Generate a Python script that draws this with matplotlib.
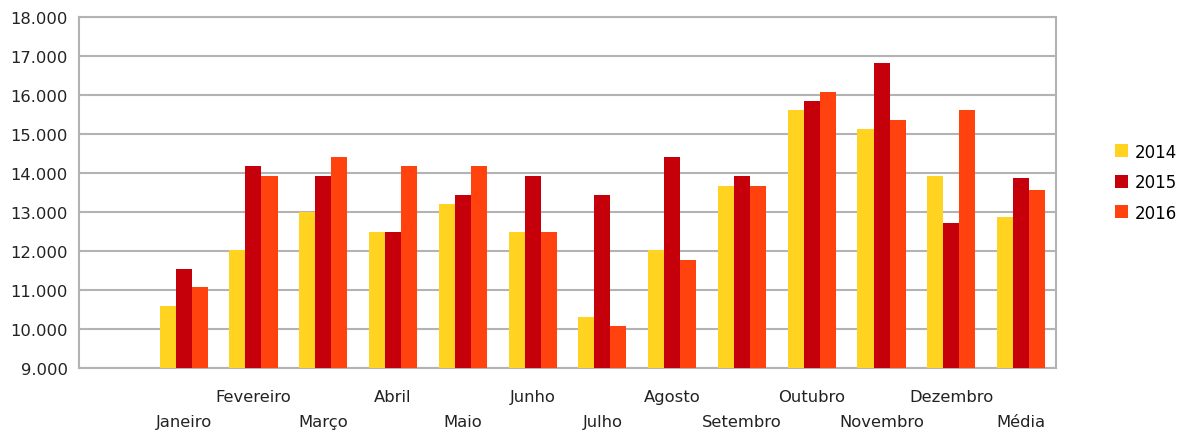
import numpy as np
import matplotlib
matplotlib.use("Agg")
import matplotlib.pyplot as plt
from matplotlib.ticker import FuncFormatter

# first slot is empty in the original chart
months = ['', 'Janeiro', 'Fevereiro', 'Março', 'Abril', 'Maio', 'Junho', 'Julho',
          'Agosto', 'Setembro', 'Outubro', 'Novembro', 'Dezembro', 'Média']
years = ['2014', '2015', '2016']
v2014 = [np.nan, 10580, 12030, 12990, 12500, 13200, 12500, 10320, 12030, 13675, 15615, 15130, 13930, 12860]
v2015 = [np.nan, 11540, 14170, 13930, 12500, 13440, 13930, 13440, 14400, 13930, 15855, 16820, 12720, 13870]
v2016 = [np.nan, 11070, 13930, 14400, 14170, 14170, 12500, 10085, 11780, 13675, 16085, 15360, 15615, 13555]
colors = ['#ffd320', '#c5000b', '#ff420e']

fig = plt.figure(figsize=(11.84, 4.35), dpi=100)
ax = fig.add_axes([0.0667, 0.1517, 0.8252, 0.8069])

x = np.arange(len(months))
w = 0.23
for i, (vals, c, lab) in enumerate(zip([v2014, v2015, v2016], colors, years)):
    ax.bar(x + (i - 1) * w, vals, width=w, color=c, label=lab, zorder=3)

ax.set_xlim(-0.5, len(months) - 0.5)
ax.set_ylim(9000, 18000)
ax.set_yticks(np.arange(9000, 18001, 1000))
ax.yaxis.set_major_formatter(FuncFormatter(lambda v, p: f"{int(v):,}".replace(',', '.')))
ax.grid(axis='y', color='#b3b3b3', linewidth=1.5, zorder=0)
for s in ax.spines.values():
    s.set_color('#b3b3b3')
    s.set_linewidth(1.5)
ax.tick_params(axis='y', length=0, labelsize=11.8, labelcolor='#222222', pad=8)

# staggered category labels: even indices on the upper row, odd on the lower row
upper = [i for i in range(1, len(months)) if i % 2 == 0]
lower = [i for i in range(1, len(months)) if i % 2 == 1]
ax.set_xticks(upper)
ax.set_xticklabels([months[i] for i in upper])
ax.set_xticks(lower, minor=True)
ax.set_xticklabels([months[i] for i in lower], minor=True)
ax.tick_params(axis='x', which='major', length=0, labelsize=11.8, labelcolor='#222222', pad=15)
ax.tick_params(axis='x', which='minor', length=0, labelsize=11.8, labelcolor='#222222', pad=33)

fig.legend(loc='center left', bbox_to_anchor=(1100 / 1184, 0.579), frameon=False,
           fontsize=12, handlelength=0.8, handleheight=0.8, handletextpad=0.4,
           labelspacing=0.75)

fig.savefig('out.png', dpi=100)
